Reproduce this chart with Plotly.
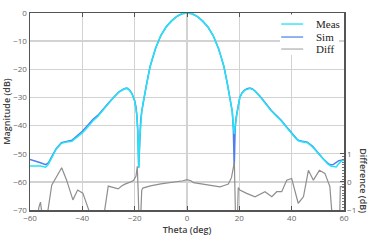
import plotly.graph_objects as go

# ---- data ----
meas_theta = [-60, -58, -56, -54, -53, -52, -50, -48, -46, -44, -42, -40, -38, -36, -34, -32, -30, -28, -26,
              -24, -23, -22, -21, -20, -19.5, -19.2, -18.8, -18.45, -18.1, -17.7, -17.3, -16.7, -16, -15.4,
              -14.1, -13, -12, -10, -8, -6, -4, -2, 0,
              2, 4, 6, 8, 10, 12, 13, 14.1, 15.4, 16, 16.7, 17.3, 17.7, 18.05, 18.4, 18.8, 19.5, 20.2,
              21, 22, 23, 24, 25, 26, 28, 30, 32, 34, 36, 38, 40, 42, 43, 44, 46, 48, 50, 52, 54, 55, 56,
              57, 58, 59, 60]
meas_db = [-54.4, -54.3, -54.4, -54.8, -53.8, -52.0, -48.4, -46.3, -45.8, -45.6, -44.2, -42.6, -40.6, -38.4,
           -36.7, -34.6, -32.2, -30.0, -28.1, -27.0, -26.8, -27.4, -28.8, -31.3, -33.5, -36.0, -42.0, -55.0,
           -45.0, -38.0, -35.0, -31.5, -28.0, -25.0, -19.0, -15.5, -12.5, -8.0, -5.0, -2.9, -1.3, -0.3, 0.0,
           -0.3, -1.3, -2.9, -5.0, -8.0, -12.5, -15.5, -19.0, -25.0, -28.0, -31.5, -35.0, -40.0, -43.0, -40.0,
           -37.0, -33.5, -30.0, -28.5, -27.5, -27.0, -26.8, -27.1, -27.8, -29.8, -32.3, -34.6, -36.5, -38.3,
           -40.6, -42.8, -45.0, -45.6, -45.8, -46.1, -47.6, -49.8, -52.0, -53.8, -54.4, -54.6, -54.7, -53.6,
           -52.6, -52.2]
sim_db = [-52.0, -52.5, -53.2, -53.9, -53.3, -51.6, -48.2, -46.1, -45.6, -45.2, -43.6, -42.0, -40.0, -37.9,
          -36.3, -34.3, -32.0, -29.9, -28.0, -26.9, -26.7, -27.3, -28.7, -31.2, -33.4, -36.0, -42.0, -55.0,
          -45.0, -38.0, -35.0, -31.5, -28.0, -25.0, -19.0, -15.5, -12.5, -8.0, -5.0, -2.9, -1.3, -0.3, 0.0,
          -0.3, -1.3, -2.9, -5.0, -8.0, -12.5, -15.5, -19.0, -25.0, -28.0, -31.5, -35.0, -41.0, -55.0, -41.0,
          -37.0, -33.4, -29.9, -28.4, -27.4, -26.9, -26.7, -27.0, -27.7, -29.7, -32.2, -34.4, -36.3, -38.1,
          -40.4, -42.6, -44.8, -45.4, -45.6, -45.9, -47.4, -49.6, -51.8, -53.5, -54.0, -53.8, -53.0, -52.5,
          -52.3, -52.2]

diff_theta = [-60, -57.5, -56.6, -56.0, -55.2, -54, -53.2, -51.7, -47.9, -46.0, -43.6, -41.8, -39.8, -38.2,
              -36.8, -34, -31.6, -30.1, -28, -26.3, -25, -23.7, -22, -20.5, -19.5, -19.0, -18.6, -18.3, -17.8,
              -17.3, -16.9, -14, -10, -6, -3, -1.5, 0, 1.5, 2.5, 6, 10, 12.6, 14.5, 15.8, 17.0, 17.6, 18.1,
              18.6, 19.2, 19.6, 20.2, 22.8, 26, 29.8, 32.4, 34.3, 36.2, 38.1, 40.0, 42.5, 44.5, 46.4, 48.3,
              50.6, 52.7, 54.6, 55.7, 57.2, 58.3, 58.6, 60]
diff_db = [-1.6, -1.5, -0.9, -0.72, -1.3, -1.4, -1.05, -0.12, 0.50, 0.06, -0.64, -0.29, -0.40, -0.85,
           -1.2, -1.3, -1.1, -0.15, -0.22, -0.25, -0.15, -0.08, -0.02, 0.05, 0.2, 0.55, -0.5, -1.5, -1.5,
           -0.3, -0.22, -0.14, -0.07, -0.02, 0.0, 0.04, 0.08, 0.04, -0.03, -0.08, -0.15, -0.18, -0.12,
           -0.08, 0.15, 0.55, 0.7, -1.5, -1.5, -0.2, -0.29, -0.41, -0.53, -0.35, -0.53, -0.35, -0.35,
           0.06, 0.12, -0.76, -0.53, 0.41, 0.06, 0.41, 0.30, -0.17, -1.5, -1.5, -1.5, -0.17, -0.17]

x_ticks = [-60, -40, -20, 0, 20, 40, 60]
y_ticks = [0, -10, -20, -30, -40, -50, -60, -70]
y2_ticks = [-1, 0, 1]
y2_minor = [round(-1 + 0.1 * i, 2) for i in range(21)]

legend_names = ["Meas", "Sim", "Diff"]
legend_colors = ["#3BE6F5", "#6A9AF0", "#BDBDBD"]

C_MEAS = "#22E4F4"
C_SIM = "#4F7FEE"
C_DIFF = "#8E8E8E"
AX = "#555555"
GRID = "#D2D2D2"

fig = go.Figure()
fig.add_trace(go.Scatter(x=meas_theta, y=sim_db, mode="lines", name="Sim",
                         line=dict(color=C_SIM, width=1.5), showlegend=False))
fig.add_trace(go.Scatter(x=meas_theta, y=meas_db, mode="lines", name="Meas",
                         line=dict(color=C_MEAS, width=1.5), showlegend=False))
fig.add_trace(go.Scatter(x=diff_theta, y=diff_db, mode="lines", name="Diff", yaxis="y2",
                         line=dict(color=C_DIFF, width=1.2), showlegend=False))

tickfont = dict(family="Open Sans", size=8, color="#666666")
titlefont = dict(family="Open Sans", size=9, color="#404040", weight=600)

fig.update_layout(
    width=371, height=240,
    margin=dict(l=30, r=27, t=13, b=30, autoexpand=False),
    paper_bgcolor="white", plot_bgcolor="white",
    showlegend=False,
    xaxis=dict(range=[-60, 60], tickvals=x_ticks, showline=True, linecolor=AX, linewidth=1.5,
               mirror="ticks", ticks="inside", ticklen=4, tickcolor=AX, tickwidth=1,
               showgrid=True, gridcolor=GRID, gridwidth=1.5, zeroline=False, automargin=False,
               tickfont=tickfont, title=dict(text="Theta (deg)", font=titlefont, standoff=4)),
    yaxis=dict(range=[-70, 0], tickvals=y_ticks, showline=True, linecolor=AX, linewidth=1.5,
               ticks="", showgrid=True, gridcolor=GRID, gridwidth=1.5, zeroline=False, automargin=False,
               tickfont=tickfont, title=dict(text="Magnitude (dB)", font=titlefont, standoff=6)),
    yaxis2=dict(range=[-1, 6], tickvals=y2_ticks, overlaying="y", side="right", showline=True,
                linecolor=AX, linewidth=1.5, ticks="inside", ticklen=4, tickcolor=AX,
                showgrid=False, zeroline=False, tickfont=tickfont, automargin=False,
                minor=dict(tickvals=y2_minor, ticks="inside", ticklen=2, tickcolor="#777777")),
)

fig.add_annotation(text="Difference (dB)", xref="paper", yref="paper", x=1.063, y=0.147,
                   textangle=90, showarrow=False, font=titlefont, xanchor="center", yanchor="middle")

# manual legend
fig.add_shape(type="rect", xref="paper", yref="paper", x0=0.796, x1=0.984, y0=0.787, y1=0.993,
              fillcolor="white", line=dict(width=0), layer="above")
leg_y = [0.944, 0.878, 0.817]
for name, col, yy in zip(legend_names, legend_colors, leg_y):
    fig.add_shape(type="line", xref="paper", yref="paper", x0=0.80, x1=0.87, y0=yy, y1=yy,
                  line=dict(color=col, width=1.5), layer="above")
    fig.add_annotation(text=name, xref="paper", yref="paper", x=0.905, y=yy, xanchor="left",
                       yanchor="middle", showarrow=False,
                       font=dict(family="Liberation Serif", size=11, color="#222222"))

fig.write_html("out.html",
               config={"displayModeBar": False, "staticPlot": True},
               post_script="document.body.style.margin='0';document.body.style.padding='0';"
                           "document.body.style.overflow='hidden';")
